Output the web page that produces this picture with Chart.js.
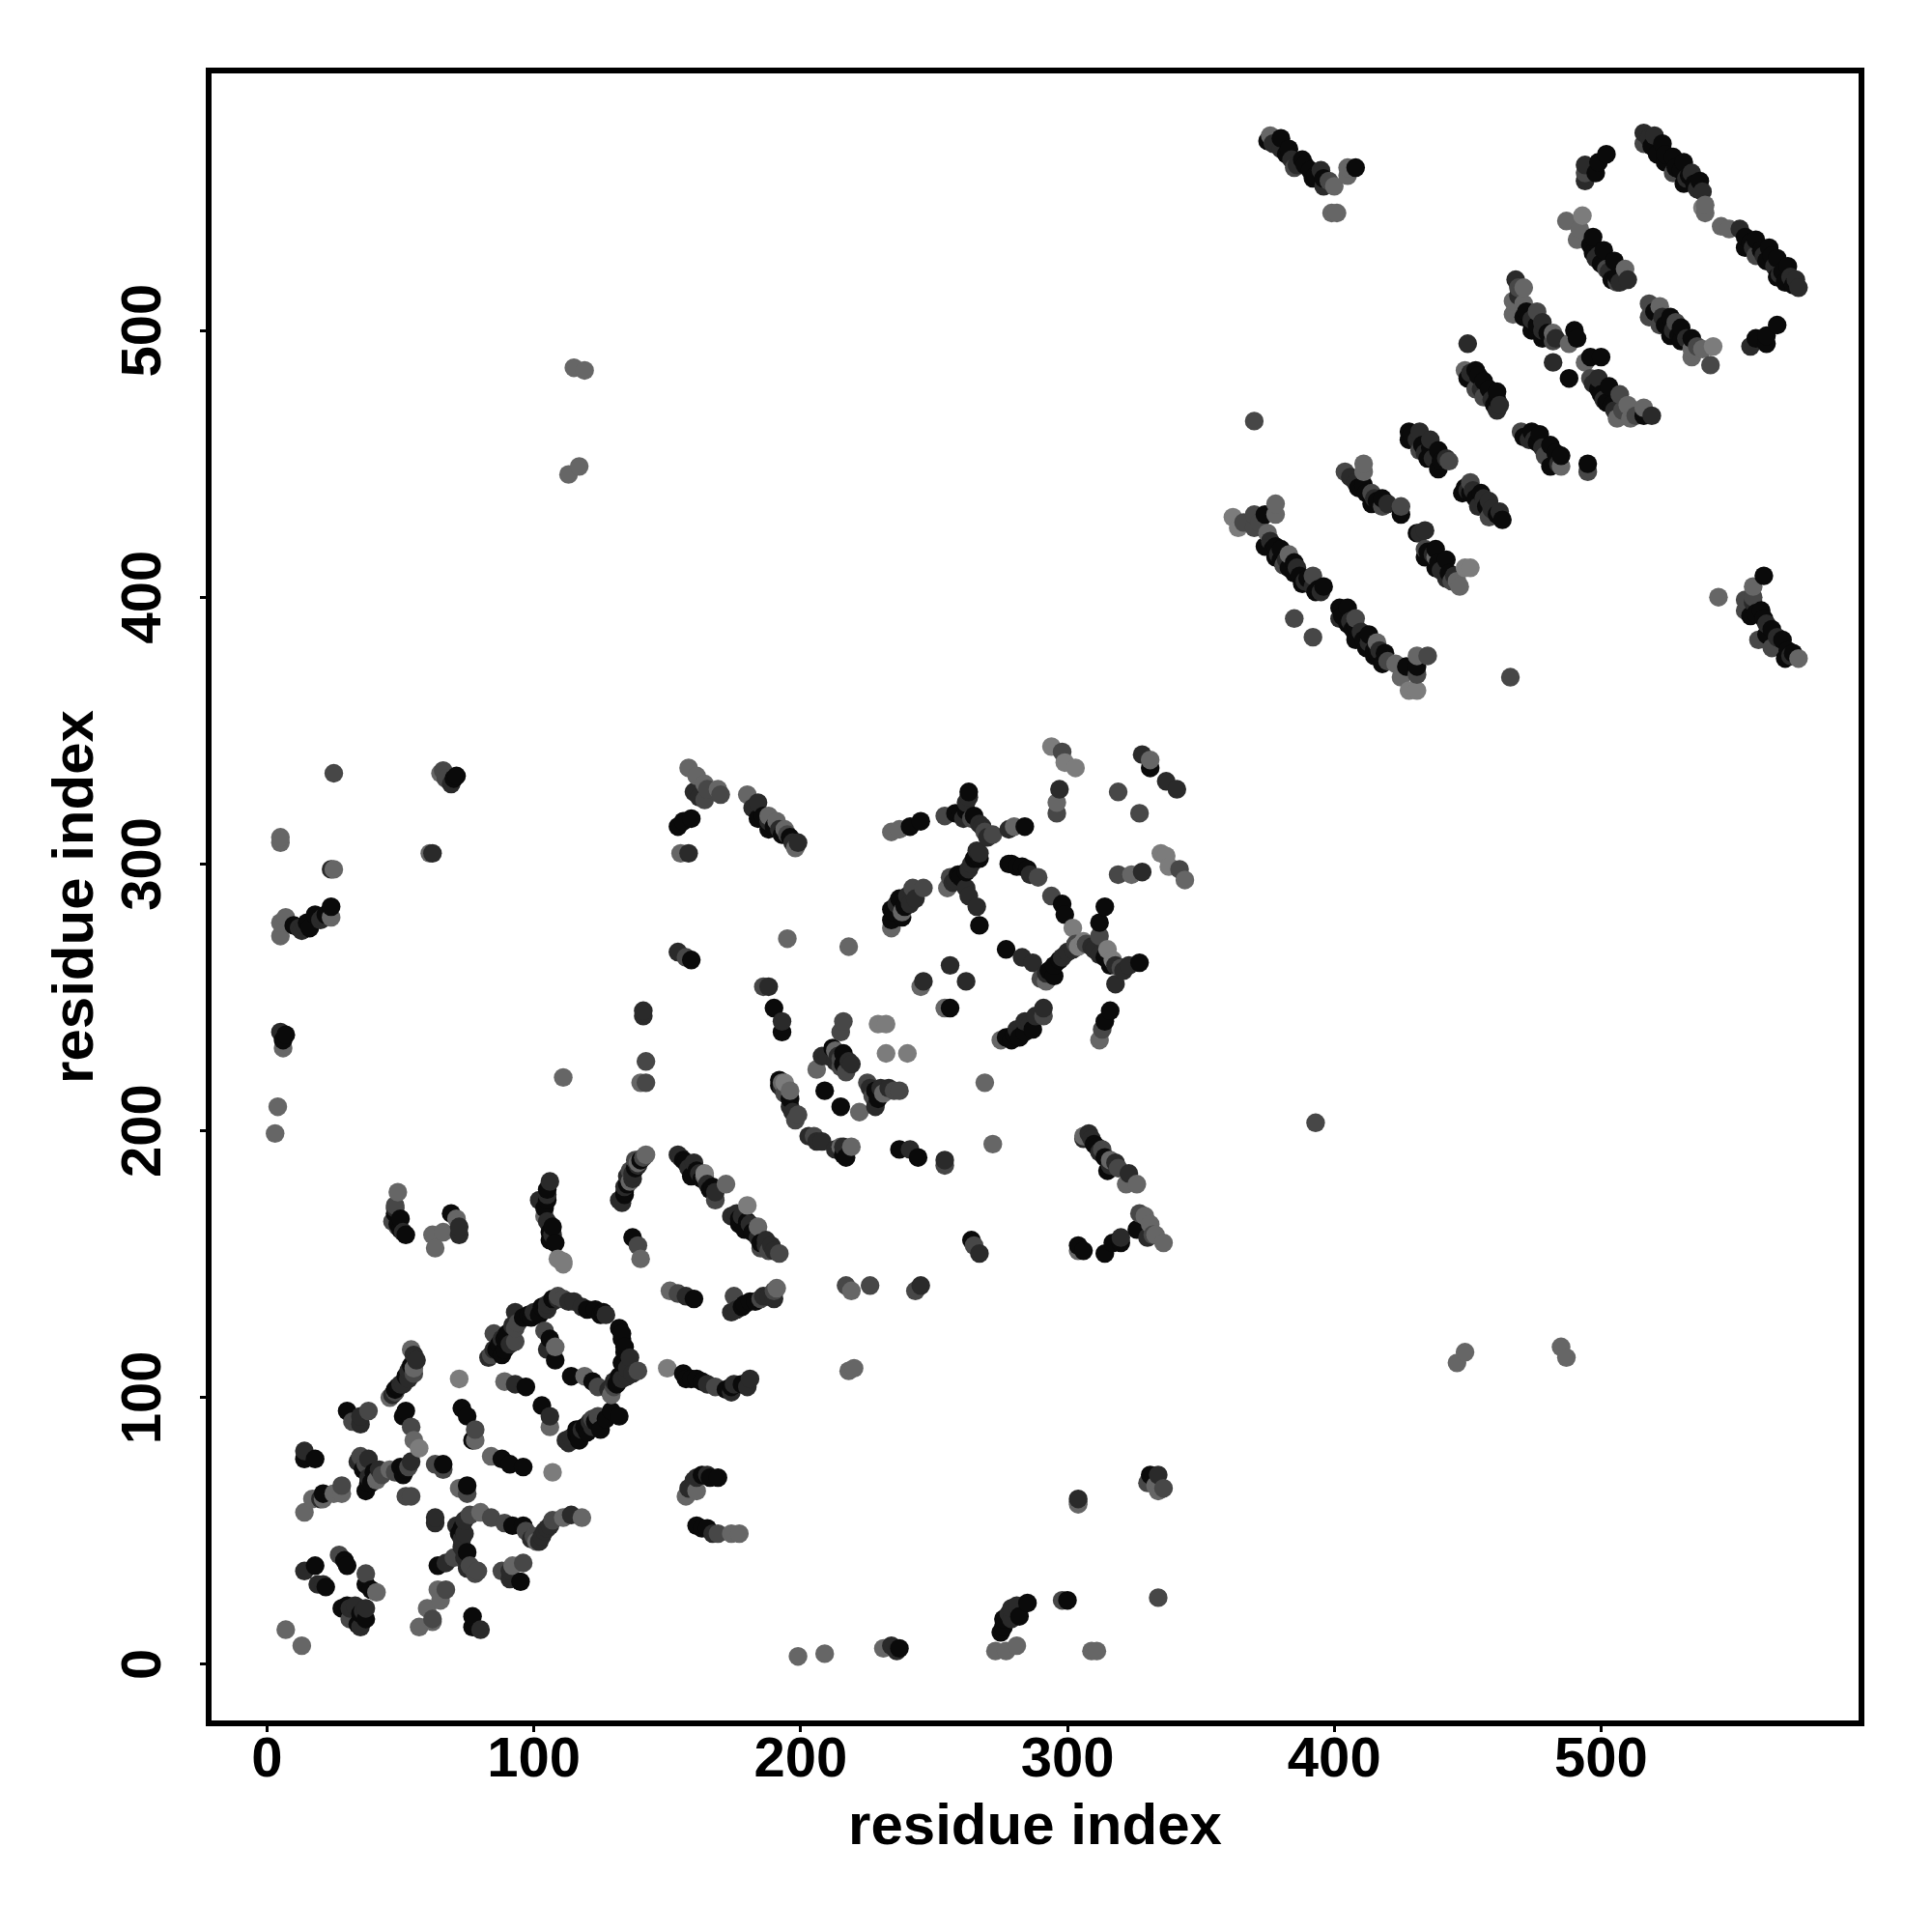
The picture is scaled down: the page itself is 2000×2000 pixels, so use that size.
<!DOCTYPE html>
<html lang="en">
<head>
    <meta charset="UTF-8">
    <title>Residue contact map</title>
    <script src="https://cdn.jsdelivr.net/npm/chart.js"></script>
    <style>
        body { margin: 0; background: #fff; }
        canvas { display: block; }
    </style>
</head>
<body>
    <canvas id="contactMap" width="2000" height="2000"></canvas>

    <script>
        // Contacts as [residue i, residue j], grouped by how dark the dot is
        var black = [
            [18,37],[29,39],[30,37],[22,29],[30,22],[28,21],[37,17],[37,30],[39,28],[64,37],[77,18],[77,14],[95,31],[73,51],[92,52],[96,52],
            [21,64],[40,72],[37,65],[38,68],[50,74],[52,73],[52,95],[51,93],[66,75],[75,67],[18,77],[14,77],[30,95],[49,104],[73,96],[75,93],
            [77,84],[88,77],[91,75],[96,74],[97,104],[103,97],[114,108],[122,106],[116,88],[117,84],[120,87],[125,88],[129,95],[132,93],[131,105],
            [134,119],[133,122],[132,126],[126,132],[123,133],[102,131],[99,130],[96,130],[89,122],[86,118],[89,118],[106,122],[108,114],
            [48,169],[50,167],[52,161],[50,163],[69,169],[105,174],[107,164],[108,158],[106,159],[134,177],[137,160],[156,189],[159,183],[167,179],
            [177,167],[179,163],[156,109],[159,107],[163,106],[174,104],[160,137],[178,134],[181,136],[169,70],[161,52],[165,51],
            [190,246],[193,237],[216,229],[192,217],[216,191],[209,215],[215,209],[228,215],
            [184,317],[188,313],[196,310],[241,314],[245,316],[263,327],[260,319],[284,314],[267,302],[260,295],[278,300],[281,299],[285,298],
            [298,285],[299,281],[297,264],[295,262],[312,278],[314,284],[327,263],[277,268],[316,245],[314,241],[279,234],[282,235],[287,238],
            [237,287],[234,283],[234,279],[238,280],[267,277],[256,246],[237,193],[244,190],[310,195],[315,185],[331,336],[159,264],[159,317],[154,314],
            [18,281],[16,276],[24,284],[71,333],[70,332],[285,23],[275,12],[276,17],[237,6],[331,71],[300,24],
            [375,571],[380,572],[383,568],[388,564],[391,560],[392,557],[396,557],[408,561],[502,566],[499,563],[498,559],[523,570],[521,566],[527,565],
            [524,563],[531,563],[530,560],[531,555],[535,555],[554,535],[554,531],[558,534],[563,531],[562,526],[566,527],[566,520],[570,524],[569,518],
            [497,535],[497,529],[501,530],[505,526],[504,519],[471,505],[474,500],[478,497],[490,500],[491,497],[488,482],[496,490],[500,490],[499,478],
            [503,479],[502,473],[516,468],[526,505],[530,501],[526,498],[534,497],[530,496],[566,502],[562,498],[558,497],[562,495],[453,485],[450,482],
            [456,481],[461,477],[461,474],[474,462],[477,461],[481,457],[485,453],[481,449],[495,450],[428,462],[428,459],[439,455],[435,452],[439,448],
            [448,439],[451,439],[455,439],[463,429],[411,442],[418,437],[414,435],[425,431],[431,424],[438,418],[434,415],[442,414],[438,411],[374,431],
            [378,419],[374,419],[378,415],[385,413],[385,409],[388,405],[396,404],[393,402],[402,396],[405,396],[408,389],[413,386],[408,384],[412,381],
            [419,379],[415,378],[418,375],[427,374],[431,374],[561,408],[556,393],[560,395],[561,392],[564,388],[568,384],[572,379],[569,377],
            [7,236],[6,234],[314,154],[317,158],[320,158],[264,159],[304,157],[326,163],[306,155],
            [48,103],[52,108],[54,112],[87,120],[90,124],[88,116],[98,131],[103,134],[107,137],[120,133],[125,131],[133,124],[134,117],[133,113],[132,108],
            [116,86],[119,89],[123,91],[127,92],[72,49],[75,42],[134,176],[135,180],[138,186],[140,189],[157,188],[161,185],[163,182],[166,178],[177,165],[180,166],
            [182,162],[185,158],[179,135],[183,136],[157,107],[161,107],[172,103],[178,105],[163,71],[166,70],[163,51],[105,178],[104,171],[106,162],[49,165],
            [259,296],[262,297],[265,302],[262,320],[265,318],[258,319],[293,260],[295,258],[314,265],[316,262],[279,300],[283,299],[192,219],[196,212],[217,190],
            [212,231],[216,225],[229,212],[235,282],[239,284],[277,235],[280,236],[284,237],[311,194],[314,190],[186,318],[190,314],[193,311],[156,316],[34,15],[35,19],
            [10,277],[15,278],[22,281],[36,73],[39,68],[51,71],[377,418],[380,414],[383,411],[387,408],[390,407],[394,403],[380,418],[403,393],[407,388],[411,384],
            [415,380],[416,379],[405,390],[409,441],[412,439],[416,436],[435,417],[439,413],[443,409],[429,461],[433,457],[436,456],[440,451],[449,441],[453,437],
            [457,434],[461,431],[454,483],[458,478],[460,472],[471,460],[476,458],[483,454],[472,507],[476,502],[480,499],[500,476],[504,472],[496,532],[500,525],
            [506,520],[520,507],[524,502],[529,498],[519,569],[524,566],[528,561],[533,558],[537,556],[556,533],[560,530],[564,528],[568,522],[572,517],[558,394],
            [562,386],[570,380],[382,566],[389,562],[393,558],[276,14],[282,18]
        ];
        var dark = [
            [14,35],[21,30],[19,30],[37,21],[35,14],[31,21],[67,38],[73,44],[74,49],[71,52],[74,54],[91,32],[91,35],[80,13],[103,48],[104,50],[106,52],[114,56],[20,62],
            [38,77],[42,73],[54,76],[63,55],[63,53],[14,80],[35,93],[35,90],[51,105],[53,107],[56,114],[93,105],[106,93],[113,83],[121,91],[133,107],[135,108],[137,109],
            [136,115],[118,134],[115,136],[107,136],[105,133],[93,132],[83,115],[105,118],[72,164],[72,161],[106,181],[102,174],[132,174],[134,179],[137,184],[154,191],[160,188],
            [174,168],[187,159],[190,155],[174,102],[181,107],[188,138],[174,132],[157,138],[161,70],[165,71],[158,66],
            [141,245],[188,254],[193,241],[208,228],[219,225],[196,209],[208,196],[228,209],
            [184,323],[199,308],[262,323],[268,314],[278,313],[266,305],[263,298],[257,293],[292,259],[309,269],[323,262],[318,255],[283,265],[287,263],[284,241],[291,246],
            [241,285],[263,288],[266,284],[256,262],[262,256],[246,256],[254,189],[241,193],[308,199],[323,184],[297,328],[328,341],[337,331],[341,328],[328,297],
            [154,267],[158,304],[62,304],[13,275],[14,277],[21,280],[69,330],[24,298],[279,21],[279,17],[234,7],[304,62],[334,71],
            [380,568],[384,564],[395,560],[494,562],[494,556],[516,574],[520,573],[534,559],[538,552],[552,538],[573,519],[574,516],[498,527],[510,519],[468,519],[478,503],
            [482,488],[499,482],[519,468],[556,494],[450,495],[461,470],[473,459],[432,462],[436,459],[454,434],[462,432],[408,443],[434,425],[442,407],[402,392],[458,436],
            [5,237],[236,5],[267,154],[330,160],[141,243],[245,142],[320,160],
            [47,101],[50,105],[53,110],[55,116],[85,118],[88,122],[91,120],[92,127],[100,132],[105,135],[109,137],[113,136],[127,131],[135,111],[130,106],[128,103],
            [112,84],[114,85],[118,88],[122,89],[73,47],[74,40],[75,36],[99,47],[102,46],[105,51],[133,173],[135,183],[137,182],[139,187],[155,190],[158,186],[162,184],
            [165,180],[168,177],[176,169],[178,168],[181,165],[184,160],[187,157],[189,157],[176,133],[186,138],[190,137],[165,105],[175,105],[180,104],[160,69],[167,49],
            [105,176],[105,166],[107,161],[48,171],[51,162],[258,294],[262,291],[264,300],[267,304],[263,325],[267,315],[270,310],[261,317],[298,265],[300,267],[302,268],
            [310,268],[312,266],[318,262],[321,260],[286,296],[193,216],[197,207],[203,198],[206,196],[213,193],[216,194],[210,228],[214,228],[218,226],[213,226],[226,216],
            [230,216],[233,216],[236,285],[240,288],[243,287],[286,240],[288,243],[281,238],[306,197],[309,197],[312,192],[316,187],[318,188],[182,321],[188,316],[192,313],
            [197,308],[160,327],[162,325],[12,276],[20,279],[34,76],[38,70],[33,22],[36,20],[376,421],[379,416],[382,414],[386,411],[389,406],[392,404],[395,402],[406,391],
            [410,387],[413,383],[417,380],[406,445],[415,437],[420,435],[432,424],[437,416],[440,410],[445,408],[431,459],[434,454],[437,452],[442,452],[452,440],[456,437],
            [459,433],[450,440],[451,484],[455,478],[459,474],[462,472],[475,459],[478,456],[484,450],[469,513],[474,504],[478,500],[483,497],[497,480],[501,474],[505,470],
            [499,528],[503,522],[507,518],[523,505],[527,500],[532,497],[518,572],[532,557],[536,553],[557,531],[561,528],[565,524],[571,520],[567,521],[557,398],[562,390],
            [566,385],[571,378],[377,570],[386,562],[396,554],[278,19],[281,22]
        ];
        var mid = [
            [27,41],[31,17],[37,34],[62,17],[88,35],[96,38],[74,39],[76,37],[79,35],[76,56],[84,55],[89,53],[97,50],[107,54],[67,28],[28,67],
            [35,78],[37,75],[54,89],[52,63],[54,63],[63,75],[66,73],[75,64],[38,95],[32,91],[48,102],[55,109],[78,88],[124,104],[130,104],[124,93],[139,110],[109,138],
            [93,121],[85,124],[93,126],[104,125],[48,172],[47,166],[139,157],[136,185],[168,174],[185,156],[192,154],[168,104],[185,137],[154,139],[169,49],[175,138],
            [142,226],[142,218],[186,254],[216,241],[215,237],[215,227],[199,206],[205,198],[225,218],[237,215],[217,142],[226,142],[243,140],
            [254,318],[264,317],[272,311],[289,295],[294,288],[312,273],[320,261],[291,243],[242,291],[246,291],[298,342],[296,319],[319,327],[327,319],[319,296],[342,298],
            [313,193],[254,187],[313,238],[157,265],[164,324],[170,326],[25,334],[298,24],[334,25],[330,68],[336,66],[393,203],[466,370],[370,466],
            [385,561],[494,559],[516,570],[527,559],[558,528],[502,523],[506,518],[476,507],[482,496],[496,482],[507,476],[518,510],[518,505],[522,502],[541,487],[554,399],
            [557,400],[554,395],[559,384],[564,381],[453,478],[456,475],[470,462],[479,453],[495,447],[432,455],[443,451],[451,443],[458,430],[404,447],[414,439],[418,434],
            [425,434],[434,418],[370,431],[370,426],[381,412],[392,408],[385,392],[392,385],[408,392],[435,378],[431,371],
            [327,169],[265,157],[332,161],[66,335],[67,332],[84,116],[94,128],[111,137],[122,92],[70,40],[78,34],[100,48],[141,190],[138,189],[188,155],[190,140],[49,164],
            [256,295],[269,312],[290,257],[303,270],[307,270],[194,214],[198,204],[215,224],[217,222],[227,213],[235,215],[319,186],[195,311],[165,328],[43,71],[48,72],[53,74],
            [372,428],[366,428],[420,376],[444,406],[469,516],[513,468],[536,494],[508,470],[398,556],[528,503]
        ];
        var grey = [
            [7,13],[13,7],[41,27],[57,14],[60,21],[62,16],[65,24],[64,28],[92,37],[80,57],[101,46],[111,55],[118,55],[14,57],[17,62],[21,62],[25,64],[28,64],
            [41,69],[46,73],[55,84],[46,100],[55,111],[54,118],[72,66],[78,84],[84,78],[89,106],[106,89],[119,108],[129,101],[108,119],[49,177],[63,156],[62,161],[66,162],
            [71,167],[104,168],[136,181],[139,188],[142,191],[140,152],[164,183],[172,180],[184,164],[151,140],[191,141],[161,65],[157,63],[174,49],[177,49],
            [140,218],[206,223],[213,230],[193,218],[196,215],[215,194],[219,194],[231,214],[222,207],[219,140],[220,111],[218,110],[195,272],[218,269],[269,218],[272,195],
            [180,326],[188,318],[191,316],[194,313],[198,306],[234,312],[237,313],[280,314],[255,291],[292,256],[296,323],[331,339],[324,296],[344,294],[238,282],[234,276],
            [245,254],[254,246],[316,189],[326,180],[322,180],[306,198],[312,234],[275,234],[155,304],[158,336],[161,333],[164,330],[169,328],[5,273],[5,278],[7,280],
            [24,280],[5,310],[5,308],[61,304],[65,334],[25,298],[304,60],[334,65],[3,199],[4,209],[6,231],[231,6],[199,3],[209,4],[273,5],[277,5],[281,7],[309,5],[311,5],[333,67],
            [115,486],[119,485],[113,446],[117,449],[446,113],[449,117],[485,119],[487,115],[111,220],
            [376,573],[400,554],[405,561],[405,558],[399,544],[401,544],[539,547],[539,544],[545,539],[548,538],[487,541],[492,538],[491,534],[509,523],[471,516],[467,511],
            [471,510],[467,506],[482,499],[488,495],[494,488],[506,467],[510,472],[511,467],[516,471],[522,509],[534,493],[538,493],[534,490],[544,400],[557,404],[574,377],
            [449,485],[485,449],[411,450],[411,447],[378,435],[378,431],[375,424],[383,416],[416,383],[423,375],[431,378],[425,370],[438,415],[446,406],[447,404],
            [304,155],[336,158],[331,165],[329,168],[333,161],[304,61]
        ];
        var pale = [
            [57,81],[107,72],[72,107],[109,152],[111,150],[164,184],[180,172],[150,111],[111,151],[229,240],[232,240],[232,229],[240,229],[302,276],[306,271],
            [304,269],[315,268],[317,264],[294,344],[299,338],[303,336],[335,304],[337,303],[338,299],[194,218],[362,430],[364,426],[493,543],[542,494],[449,411],
            [451,411],[428,365],[431,365],[538,546]
        ];

        var tickValues = [0, 100, 200, 300, 400, 500];
        var axisLabel = "residue index";

        var shadeGroups = [
            { points: black, color: "#0a0a0a" },
            { points: dark, color: "#2a2a2a" },
            { points: mid, color: "#474747" },
            { points: grey, color: "#666666" },
            { points: pale, color: "#7c7c7c" }
        ];

        // One dataset in residue order, so dark and grey dots overlap in a mixed way
        var contacts = [];
        shadeGroups.forEach(function(group) {
            group.points.forEach(function(p) {
                contacts.push({ x: p[0], y: p[1], color: group.color });
            });
        });
        contacts.sort(function(a, b) { return a.x - b.x || a.y - b.y; });

        var tickFont = { family: "'Liberation Sans'", size: 58, weight: "bold" };
        var titleFont = { family: "'Liberation Sans'", size: 60, weight: "bold" };

        // Box around the plot, and the y labels, which R writes turned by 90 degrees
        var framePlugin = {
            id: "frame",
            afterDraw: function(chart) {
                var ctx = chart.ctx, area = chart.chartArea, y = chart.scales.y;
                ctx.save();
                ctx.strokeStyle = "#000";
                ctx.lineWidth = 6;
                ctx.strokeRect(area.left, area.top, area.right - area.left, area.bottom - area.top);
                ctx.fillStyle = "#000";
                ctx.font = "bold 58px 'Liberation Sans'";
                ctx.textAlign = "center";
                ctx.textBaseline = "middle";
                tickValues.forEach(function(v) {
                    ctx.save();
                    ctx.translate(150, y.getPixelForValue(v));
                    ctx.rotate(-Math.PI / 2);
                    ctx.fillText(String(v), 0, 0);
                    ctx.restore();
                });
                ctx.restore();
            }
        };

        function setTicks(scale) {
            scale.ticks = tickValues.map(function(v) { return { value: v }; });
        }

        var tickGrid = { drawOnChartArea: false, drawTicks: true, tickLength: 9, tickWidth: 3, tickColor: "#000" };

        new Chart(document.getElementById("contactMap"), {
            type: "scatter",
            data: {
                datasets: [{
                    data: contacts,
                    pointRadius: 9.7,
                    pointBorderWidth: 0,
                    pointBackgroundColor: contacts.map(function(c) { return c.color; })
                }]
            },
            options: {
                responsive: false,
                animation: false,
                layout: { padding: { top: 73, right: 73 } },
                plugins: { legend: { display: false }, tooltip: { enabled: false } },
                scales: {
                    x: {
                        type: "linear",
                        min: -21.9,
                        max: 597.6,
                        afterBuildTicks: setTicks,
                        afterFit: function(scale) { scale.height = 216; },
                        grid: tickGrid,
                        border: { display: false },
                        ticks: { font: tickFont, color: "#000", maxRotation: 0, padding: -5 },
                        title: { display: true, text: axisLabel, font: titleFont, color: "#000", padding: { top: 0, bottom: 72 } }
                    },
                    y: {
                        type: "linear",
                        min: -22.1,
                        max: 597.4,
                        afterBuildTicks: setTicks,
                        afterFit: function(scale) { scale.width = 216; },
                        grid: tickGrid,
                        border: { display: false },
                        ticks: { display: false },
                        title: { display: true, text: axisLabel, font: titleFont, color: "#000", padding: { top: 43, bottom: 0 } }
                    }
                }
            },
            plugins: [framePlugin]
        });
    </script>
</body>
</html>
